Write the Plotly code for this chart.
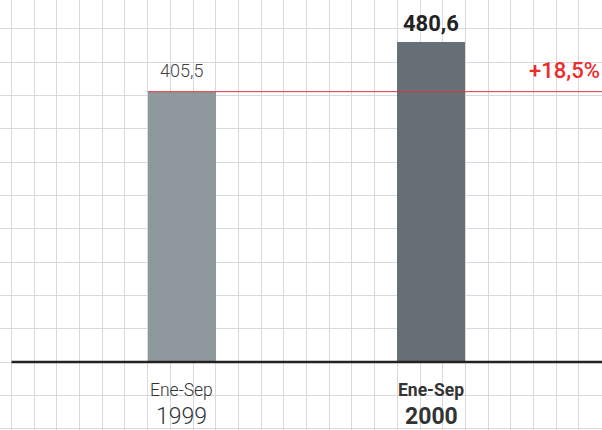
import plotly.graph_objects as go

# Data
periods = ["Ene-Sep", "Ene-Sep"]
years = ["1999", "2000"]
values = [405.5, 480.6]
value_labels = ["405,5", "480,6"]
change_label = "+18,5%"

bar_colors = ["#8e989d", "#656f75"]
FONT = "Roboto"

x_pos = list(range(len(values)))
cell = 1 / 11           # grid cell width in x units
bar_width = 3 * cell

fig = go.Figure()
fig.add_trace(go.Bar(
    x=x_pos, y=values, width=bar_width,
    marker=dict(color=bar_colors, line=dict(width=0)),
    hoverinfo="skip", showlegend=False,
))

# Value labels above bars
fig.add_annotation(x=x_pos[0], y=values[0], text=value_labels[0], showarrow=False,
                   yanchor="bottom", yshift=9,
                   font=dict(family=FONT, size=18, color="#444444", weight=300))
fig.add_annotation(x=x_pos[1], y=values[1], text="<b>" + value_labels[1] + "</b>", showarrow=False,
                   yanchor="bottom", yshift=4,
                   font=dict(family=FONT, size=22, color="#222222"))

# Change label, right-aligned above the reference line
fig.add_annotation(xref="paper", x=1, y=values[0], text=change_label, showarrow=False,
                   xanchor="right", yanchor="bottom", yshift=7, xshift=0,
                   font=dict(family=FONT, size=22, color="#ee2b2b", weight=500))

# Category labels under the baseline
for i, (p, yr) in enumerate(zip(periods, years)):
    bold = i == len(values) - 1
    fig.add_annotation(x=x_pos[i], y=-42, text=("<b>%s</b>" % p) if bold else p, showarrow=False,
                       font=dict(family=FONT, size=17.5, color="#333333", weight=None if bold else 300))
    fig.add_annotation(x=x_pos[i], y=-82, text=("<b>%s</b>" % yr) if bold else yr, showarrow=False,
                       font=dict(family=FONT, size=23, color="#333333", weight=None if bold else 300))

# Reference line at the first value, extended to the right edge
fig.add_shape(type="line", xref="x", yref="y",
              x0=x_pos[0] - bar_width / 2, x1=1.6835, y0=values[0], y1=values[0],
              line=dict(color="#e0343c", width=1), layer="above")

# Baseline
fig.add_shape(type="line", xref="paper", yref="y", x0=11.5 / 602, x1=1, y0=0, y1=0,
              line=dict(color="#222222", width=2.5), layer="above")

grid_color = "#d6dade"
fig.update_xaxes(range=[-0.7278, 1.6835], tick0=-1.5 * cell, dtick=cell,
                 showgrid=True, gridcolor=grid_color, gridwidth=1.2,
                 showticklabels=False, zeroline=False, ticks="", showline=False, fixedrange=True)
fig.update_yaxes(range=[-102, 543], tick0=0, dtick=50,
                 showgrid=True, gridcolor=grid_color, gridwidth=1.2,
                 showticklabels=False, zeroline=False, ticks="", showline=False, fixedrange=True)

fig.update_layout(width=602, height=430, autosize=False,
                  margin=dict(l=0, r=0, t=0, b=0, pad=0),
                  paper_bgcolor="white", plot_bgcolor="white", bargap=0)

fig.write_html("out.html", config={"displayModeBar": False})
